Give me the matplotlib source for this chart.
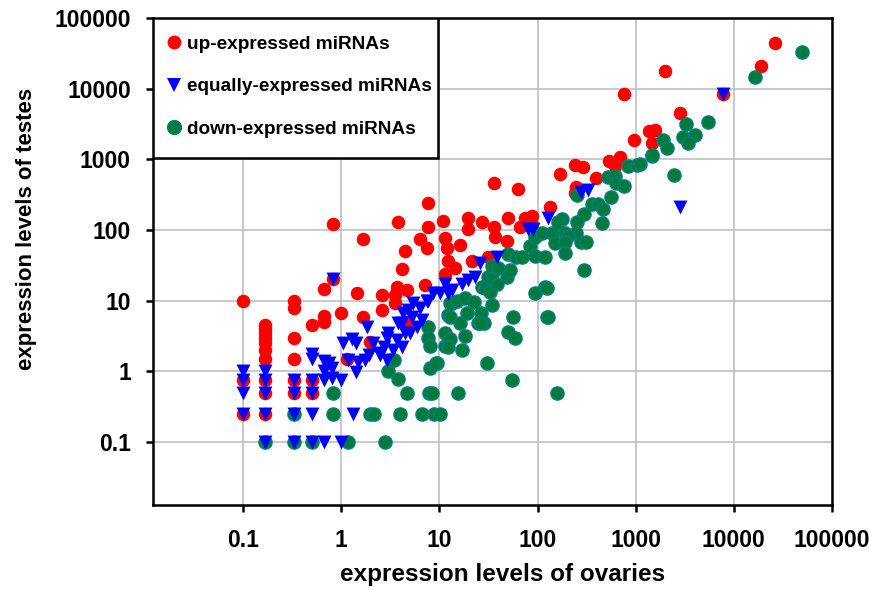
import numpy as np
import matplotlib
matplotlib.use("Agg")
import matplotlib.pyplot as plt
from matplotlib.lines import Line2D
from matplotlib.patches import Rectangle

# up-expressed miRNAs (ovaries, testes)
up_x = [0.1, 0.1, 0.1,
        0.167, 0.167, 0.167, 0.167, 0.167, 0.167, 0.167, 0.167, 0.167, 0.167,
        0.333, 0.333, 0.333, 0.333, 0.333, 0.333,
        0.5, 0.5, 0.5, 0.667, 0.667, 0.667,
        0.83, 0.83, 1.0, 1.15, 1.45, 1.65, 1.65, 1.97, 2.6, 2.6,
        3.7, 3.55, 3.5, 3.8, 4.2, 4.5, 4.7, 7.1, 4.7,
        6.3, 7.5, 7.6, 7.7, 11, 11.4, 12, 12.3, 11.4, 14.5, 16.2,
        19.6, 19.6, 21.5, 27, 31, 36, 36, 37, 49, 50, 64, 66, 74, 88, 88,
        135, 168, 240, 290, 245, 240, 390, 530, 700, 610,
        754, 960, 1380, 1480, 1560, 2000, 2850, 7700, 18800, 26000]
up_y = [10, 0.75, 0.25,
        4.5, 4, 3.5, 3, 2.5, 2, 1.5, 0.75, 0.5, 0.25,
        10, 8, 3, 1.5, 0.75, 0.5,
        4.5, 0.75, 0.5, 6, 5, 14.5,
        123, 20, 6.8, 1.5, 13, 5.8, 75, 2.6, 12, 7.3,
        15.4, 12, 9.2, 128, 28, 50, 14, 16.5, 5,
        75, 55, 110, 245, 136, 78, 55, 37, 24, 28.6, 61,
        148, 103, 37, 128, 41, 470, 112, 80, 69, 148, 377, 109, 150, 160, 116,
        210, 630, 820, 770, 400, 330, 550, 960, 1070, 800,
        8500, 1900, 2560, 1730, 2600, 18000, 4600, 8500, 20700, 44000]

# equally-expressed miRNAs
eq_x = [0.1, 0.1, 0.1, 0.1,
        0.167, 0.167, 0.167, 0.167, 0.167,
        0.333, 0.333, 0.333, 0.333,
        0.5, 0.5, 0.5, 0.5, 0.5, 0.5,
        0.667, 0.667, 0.667, 0.667,
        0.75, 0.8, 0.8, 1.0, 1.0, 0.83,
        1.05, 1.3, 1.4, 1.18, 1.4, 1.5, 1.84, 1.9, 2.1, 2.5, 2.7, 3.0,
        3.4, 3.7, 4.2, 4.5, 4.8, 5.4, 6.4, 7.5, 8.6, 1.32,
        1.75, 2.4, 2.9, 2.9, 3.8, 4.2, 5.0, 5.9, 6.7, 7.7, 11.4, 10.1,
        13.5, 4.3, 5.3, 12.3, 17, 19.6, 23, 26, 38.6, 80, 90, 128,
        280, 324, 7700, 2800]
eq_y = [1, 0.75, 0.5, 0.25,
        1, 0.75, 0.5, 0.25, 0.1,
        0.75, 0.5, 0.25, 0.1,
        1.75, 1.5, 0.75, 0.5, 0.25, 0.1,
        1.4, 1.0, 0.75, 0.1,
        1.3, 1.1, 0.8, 0.75, 0.1, 20,
        2.5, 2.9, 2.5, 1.43, 0.97, 1.34, 4.2, 1.7, 2.5, 1.7, 2.2, 3.45,
        2.0, 2.75, 4.9, 3.45, 7.3, 9.2, 7.8, 10, 12.7, 0.25,
        1.43, 1.8, 3.0, 1.43, 4.8, 2.2, 3.45, 4.2, 5.3, 10, 17.5, 12.7,
        14, 6.6, 5.8, 12.7, 17.5, 19.4, 21.4, 33.7, 41, 105, 105, 146,
        340, 364, 8400, 210]

# down-expressed miRNAs
down_x = [0.167, 0.333, 0.5, 0.333, 1.18, 2.8, 0.83, 0.83,
          1.97, 2.15, 4.0, 6.6, 8.8, 10.1,
          3.0, 3.8, 4.7, 7.8, 3.2, 8.0, 9.4, 3.46, 9.3, 8.4,
          7.7, 7.7, 8.0, 11.4, 11.4, 12.3, 13.5, 12.9, 15,
          18.3, 22.5, 27, 29, 33, 38.6, 31, 34, 49, 52.5, 34, 40, 50, 61, 69,
          26.6, 19, 24.7, 28.5, 12.9, 16.2, 18.3, 12.9, 12.3, 17, 30.5, 55,
          15.5, 56, 50, 59, 94, 119, 124, 84, 94, 119, 94, 110, 140, 34, 26,
          1450, 830, 1030, 520, 610, 625, 755, 560, 360, 410, 460, 450,
          300, 250, 245, 177, 162, 190, 203, 150, 190, 280, 315, 190, 300,
          124, 127, 157, 255,
          49000, 16600, 5400, 3250, 3000, 4000, 3400, 1880, 2100, 1480,
          1100, 2450]
down_y = [0.1, 0.1, 0.1, 0.25, 0.1, 0.1, 0.5, 0.25,
          0.25, 0.25, 0.25, 0.25, 0.25, 0.25,
          1.0, 0.77, 0.5, 0.5, 1.43, 1.1, 1.3, 1.43, 1.3, 0.5,
          4.2, 3.0, 2.3, 3.45, 2.3, 6.2, 9.4, 9.4, 9.8,
          11.1, 9.5, 15.4, 15, 13.1, 17.5, 21.4, 24.4, 21.4, 26.8, 31.5,
          28.6, 46.5, 41, 41,
          6.6, 6.8, 4.9, 4.9, 5.8, 4.8, 3.2, 2.9, 2.2, 2.0, 1.3, 0.75,
          0.49, 5.8, 3.6, 3.0, 12.7, 15.4, 5.8, 60, 43.6, 41, 78.5, 90, 92,
          8.6, 4.8,
          1100, 800, 820, 555, 590, 470, 425, 290, 237, 237, 200, 124,
          171, 128, 90, 143, 128, 92, 83, 65, 67, 67, 67, 47, 27,
          15, 5.8, 0.49, 310,
          33500, 14400, 3400, 3200, 2100, 2200, 1730, 1900, 1430, 1140,
          850, 610]

ticks = [0.1, 1, 10, 100, 1000, 10000, 100000]
tick_labels = ["0.1", "1", "10", "100", "1000", "10000", "100000"]

red = "#ff0000"
blue = "#0000ff"
green = "#007a3d"
green_edge = "#008080"

plt.rcParams["font.family"] = ["Liberation Sans", "DejaVu Sans"]
plt.rcParams["font.weight"] = "bold"

fig = plt.figure(figsize=(8.7, 5.9), dpi=100)
ax = fig.add_axes([0.1759, 0.1441, 0.9563 - 0.1759, 0.9695 - 0.1441])

ax.set_xscale("log")
ax.set_yscale("log")
ax.set_xlim(0.0121, 100000)
ax.set_ylim(0.0129, 100000)

ax.scatter(up_x, up_y, s=95, c=red, marker="o", linewidths=0, zorder=3)
ax.scatter(down_x, down_y, s=90, c=green, marker="o", edgecolors=green_edge,
           linewidths=1.0, zorder=4)
ax.scatter(eq_x, eq_y, s=100, c=blue, marker="v", linewidths=0, zorder=5)

ax.xaxis.set_major_locator(matplotlib.ticker.FixedLocator(ticks))
ax.yaxis.set_major_locator(matplotlib.ticker.FixedLocator(ticks))
ax.xaxis.set_minor_locator(matplotlib.ticker.NullLocator())
ax.yaxis.set_minor_locator(matplotlib.ticker.NullLocator())
ax.set_xticklabels(tick_labels)
ax.set_yticklabels(tick_labels)

ax.grid(True, color="#c0c0c0", linewidth=1.2, zorder=0)
ax.set_axisbelow(True)
for s in ax.spines.values():
    s.set_linewidth(1.8)
    s.set_color("black")
ax.tick_params(axis="both", direction="out", length=5, width=1.8,
               labelsize=16.5, colors="black")
ax.tick_params(axis="x", pad=12)
ax.tick_params(axis="y", pad=11)

fig.text(503 / 870, 1 - 575 / 590, "expression levels of ovaries",
         fontsize=17.5, fontweight="bold", ha="center", va="center")
fig.text(27 / 870, 1 - 229 / 590, "expression levels of testes",
         fontsize=16, fontweight="bold", ha="center", va="center",
         rotation=90)

# legend box drawn separately so its padding can differ per side
box = Rectangle((0, 0.7125), 0.4197, 0.2875, transform=ax.transAxes,
                facecolor="white", edgecolor="black", linewidth=1.8,
                zorder=9)
ax.add_patch(box)

handles = [
    Line2D([], [], linestyle="none", marker="o", markersize=10,
           markerfacecolor=red, markeredgewidth=0),
    Line2D([], [], linestyle="none", marker="v", markersize=10,
           markerfacecolor=blue, markeredgewidth=0),
    Line2D([], [], linestyle="none", marker="o", markersize=10,
           markerfacecolor=green, markeredgecolor=green_edge,
           markeredgewidth=1.0),
]
labels = ["up-expressed miRNAs", "equally-expressed miRNAs",
          "down-expressed miRNAs"]
leg = ax.legend(handles, labels, loc="upper left", bbox_to_anchor=(0, 1),
                borderaxespad=0, frameon=False, labelspacing=1.33,
                borderpad=0.91, handlelength=0.4, handletextpad=0.48,
                prop={"weight": "bold", "size": 13.7})
leg.set_zorder(10)

fig.savefig("out.png", dpi=100)
